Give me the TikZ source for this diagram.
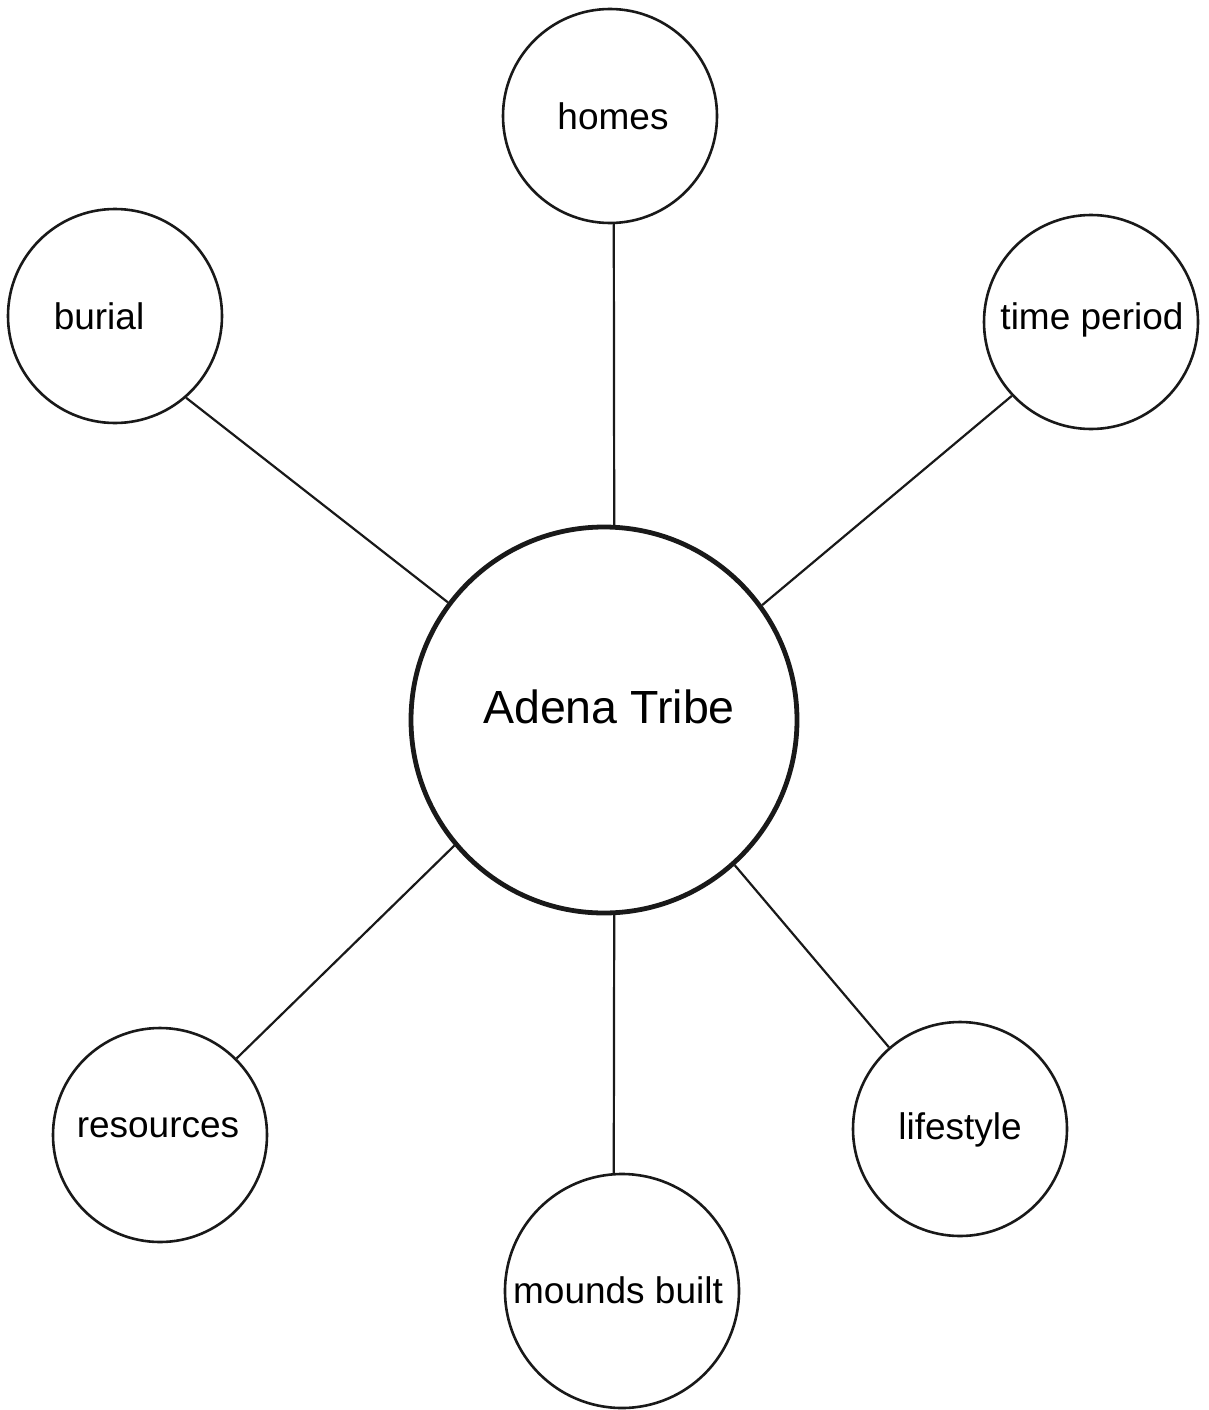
\documentclass[tikz,border=0pt]{standalone}
\usepackage{fontspec}
\setmainfont{Liberation Sans}
\begin{document}
\begin{tikzpicture}[x=1pt,y=-1pt,
  topic/.style={draw=black!90, line width=2.6pt, circle, inner sep=0pt},
  hub/.style={draw=black!90, line width=4.8pt, circle, inner sep=0pt, minimum size=386pt},
  lbl/.style={font=\fontsize{37}{44}\selectfont, text=black, inner sep=0pt},
  link/.style={draw=black!90, line width=2.2pt}]
\fill[white] (0,0) rectangle (1209,1410);
\useasboundingbox (0,0) rectangle (1209,1410);
\node[hub] (c) at (604,720) {};
\node[topic, minimum size=214pt] (homes) at (610,116) {};
\node[topic, minimum size=214pt] (burial) at (115,316) {};
\node[topic, minimum size=214pt] (time) at (1091,322) {};
\node[topic, minimum size=214pt] (res) at (160,1135) {};
\node[topic, minimum size=234pt] (mounds) at (622,1291) {};
\node[topic, minimum size=214pt] (life) at (960,1129) {};
\node[font=\fontsize{46.5}{54}\selectfont, text=black, inner sep=0pt] (ct) at (609,707) {Adena Tribe};
\node[lbl] (thomes) at (613,116) {homes};
\node[lbl] (tburial) at (99,316) {burial};
\node[lbl] (ttime) at (1092,320) {time period};
\node[lbl] (tres) at (158,1128) {resources};
\node[lbl] (tmounds) at (618,1290) {mounds built};
\node[lbl] (tlife) at (960,1130) {lifestyle};
\draw[link] (homes.-88) -- (c.87);
\draw[link] (burial.-49) -- (c.143);
\draw[link] (time.223.5) -- (c.36.6);
\draw[link] (res.45.7) -- (c.220);
\draw[link] (c.-87) -- (mounds.94.4);
\draw[link] (life.131) -- (c.-48.5);
\end{tikzpicture}
\end{document}
